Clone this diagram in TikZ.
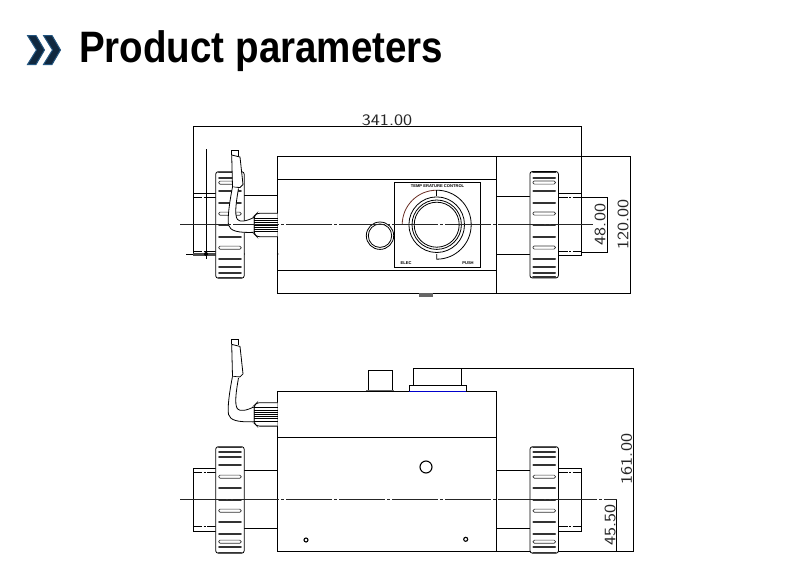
\documentclass[tikz,border=0pt]{standalone}
\usepackage{fontspec}
\setmainfont{Liberation Sans}
\definecolor{chevfill}{HTML}{10283F}
\definecolor{chevedge}{HTML}{23557F}
\definecolor{dialred}{HTML}{6B2F25}
\tikzset{
  part/.style={draw=black,line width=0.8pt},
  slot/.style={line width=2pt,line cap=round,draw=black!80},
  openslot/.style={line width=0.7pt,rounded corners=1.4pt,draw=black!80},
  centre/.style={line width=1pt,draw=black!85,dash pattern=on 46pt off 2pt on 3pt off 2pt},
  hidden/.style={line width=0.7pt,dash pattern=on 9pt off 1.5pt on 2pt off 1.5pt},
  dimtext/.style={font=\sffamily\fontsize{16}{16}\selectfont,inner sep=0pt,xscale=1.2,transform shape,text=black!85},
  tinytext/.style={font=\bfseries\fontsize{4.1}{5}\selectfont,inner sep=0pt},
}
% one coupling nut, with its slots
\newcommand{\nutshape}[4]{%
  \draw[part,fill=white,rounded corners=2.5pt] (#1,#2) rectangle ++(28.5,106.5);
  \draw[slot,line width=1.5pt] ({#1+3},{#2+0.8}) -- ++(22.5,0);
  \draw[slot,line width=1.5pt] ({#1+3},{#2+105.6}) -- ++(22.5,0);
  \foreach \dy in {#3} \draw[slot] ({#1+3.4},{#2+\dy}) -- ++(21.7,0);
  \foreach \dy in {#4} \draw[openslot] ({#1+3},{#2+\dy-1.6}) rectangle ++(22.5,3.2);
}
% cable with its gland, the argument is the shift from the upper view
\newcommand{\cableshape}[1]{%
  \begin{scope}[yshift=-#1pt]
    \draw[part,line width=0.7pt] (231.7,155) -- (231.7,150) -- (238.3,150) -- (238.3,156);
    \draw[part,fill=white] (231.7,155) -- (240,157) -- (243,184.5) -- (240,187.5) -- (232.5,187) -- cycle;
    \draw[part,fill=white] (232.5,187) .. controls (229,205) and (227.5,218) .. (228.5,225)
      .. controls (230,231) and (238,233) .. (254.3,232.3) -- (254.3,217.3)
      .. controls (247,221) and (240,222.5) .. (237.5,219.5)
      .. controls (234,215) and (236.5,200) .. (238.5,188.5);
    \draw[part,fill=white,rounded corners=2.5pt] (277.7,213.3) -- (257,213.3) -- (254.3,216) -- (254.3,234) -- (257,236.7) -- (277.7,236.7);
    \foreach \fy in {218.3,220.5,...,232} \draw[line width=0.8pt] (254.3,\fy) -- (277.7,\fy);
  \end{scope}
}
\begin{document}
\begin{tikzpicture}[x=1pt,y=-1pt]
  \useasboundingbox (0,0) rectangle (800,570);

  % heading
  \foreach \cx in {0,16} {
    \fill[chevfill,draw=chevedge,line width=1pt] ({27.5+\cx},35.5) -- ({36+\cx},35.5) -- ({44.5+\cx},50) -- ({36+\cx},64.5) -- ({27.5+\cx},64.5) -- ({36.5+\cx},50) -- cycle;
  }
  \node[anchor=base west,inner sep=0pt,font=\bfseries\fontsize{44}{44}\selectfont,xscale=0.876,transform shape] (heading) at (79,62) {Product parameters};

  % upper view: body
  \draw[part] (277.7,156.7) rectangle (630.7,293);
  \draw[part] (277.7,179) -- (496.7,179);
  \draw[part] (277.7,270.3) -- (496.7,270.3);
  \draw[part] (496.7,156.7) -- (496.7,293);
  \fill[black!60] (419,293) rectangle (432.7,296.5);

  % upper view: pipes
  \draw[part] (244,195.7) -- (277.7,195.7);
  \draw[part] (496.7,196) -- (529.7,196);
  \draw[part] (496.7,254.3) -- (529.7,254.3);
  \draw[part] (193,193.3) -- (215.7,193.3);
  \draw[part] (193,255.7) -- (215.7,255.7);
  \draw[hidden] (193,197.3) -- (215.7,197.3);
  \draw[hidden] (193,251.7) -- (215.7,251.7);
  \draw[part] (558.7,193.7) -- (581,193.7);
  \draw[part] (558.7,255.7) -- (581,255.7);
  \draw[hidden] (558.7,197.3) -- (581,197.3);
  \draw[hidden] (558.7,251.7) -- (581,251.7);

  % upper view: dimensions
  \draw[part] (193,255.7) -- (193,126.7) -- (581,126.7) -- (581,255.7);
  \draw[part] (581,197.7) -- (607.3,197.7) -- (607.3,252.3) -- (581,252.3);
  \draw[part] (206,149) -- (206,259);
  \draw[part] (186,254) -- (215.7,254);
  \fill[black!70] (193,252.5) rectangle (215.7,255.7);
  \fill (206,254) circle (2pt);
  \fill (244,254) circle (0.8pt);
  \fill (277.7,254) circle (0.8pt);
  \node[dimtext] (d341) at (387,120.3) {341.00};
  \node[rotate=90,dimtext] (d48) at (600,224.5) {48.00};
  \node[rotate=90,dimtext] (d120) at (623,224.5) {120.00};

  % upper view: nuts and cable
  \nutshape{215.7}{171.7}{6,19,31,53,65,87,95,101}{11,42,76}
  \nutshape{529.9}{171.5}{6,19,31,53,65,87,95,101}{11,42,76}
  \cableshape{0}

  % upper view: control panel
  \draw[part] (394.3,182) rectangle (480.3,267.7);
  \node[tinytext] (paneltitle) at (437.5,186.3) {TEMP ERATURE CONTROL};
  \node[tinytext] (panelleft) at (406,263) {ELEC};
  \node[tinytext] (panelright) at (468,263) {PUSH};
  \draw[part] (436.7,224.7) circle (22.5);
  \draw[part] (436.7,224.7) circle (24.7);
  \draw[part] (436.7,224.7) circle (27.8);
  \draw[line width=0.8pt,dialred] (402.2,224.7) arc (180:90:34.5 and -34.5);
  \draw[part] (436.7,190.2) arc (90:-90:34.5 and -34.5) -- (436.7,254);
  \draw[part] (436.7,190.2) -- (436.7,196);
  \draw[part] (380,235.7) circle (13.7);
  \draw[part] (380,235.7) circle (11.7);

  \draw[centre] (180,224.7) -- (593,224.7);

  % lower view: body
  \draw[part] (277.7,391.3) rectangle (496.7,551);
  \draw[part] (277.7,437.3) -- (496.7,437.3);
  \draw[part] (277.7,551) -- (633.7,551) -- (633.7,368.3) -- (461.7,368.3);
  \draw[part] (616.7,499.7) -- (616.7,551);
  \draw[part] (413.3,385) -- (413.3,368.3) -- (461.7,368.3) -- (461.7,385);
  \draw[part] (409.3,391) -- (409.3,385) -- (466.3,385) -- (466.3,391);
  \draw[line width=0.8pt,blue!80!black] (409.3,391) -- (466.3,391);
  \draw[part] (368.7,390) -- (368.7,370.7) -- (392,370.7) -- (392,390);
  \draw[line width=1.6pt,black!60] (366.3,390.4) -- (394,390.4);

  % lower view: pipes
  \draw[part] (244,470.3) -- (277.7,470.3);
  \draw[part] (244,528.3) -- (277.7,528.3);
  \draw[part] (496.7,470) -- (530,470);
  \draw[part] (496.7,528.7) -- (530,528.7);
  \draw[part] (215.7,468.3) -- (193,468.3) -- (193,531) -- (215.7,531);
  \draw[hidden] (193,472.3) -- (215.7,472.3);
  \draw[hidden] (193,526.7) -- (215.7,526.7);
  \draw[part] (558.7,468.3) -- (581.7,468.3) -- (581.7,531) -- (558.7,531);
  \draw[hidden] (558.7,472.3) -- (581.7,472.3);
  \draw[hidden] (558.7,526.7) -- (581.7,526.7);

  % lower view: holes
  \draw[part,line width=1.1pt] (426,467) circle (6);
  \draw[part,line width=1.1pt] (465.7,539.3) circle (2);
  \draw[part,line width=1.1pt] (306,540) circle (2);

  % lower view: nuts and cable
  \nutshape{215.7}{446.7}{5.7,10.7,18.7,41,53,75.7,87,100}{30,64,95}
  \nutshape{530}{446.7}{5.7,10.7,18.7,41,53,75.7,87,100}{30,64,95}
  \cableshape{189.4}

  \draw[centre] (180,499.7) -- (616.7,499.7);
  \node[rotate=90,dimtext] (d161) at (626.7,459) {161.00};
  \node[rotate=90,dimtext] (d455) at (610,525) {45.50};
\end{tikzpicture}
\end{document}
